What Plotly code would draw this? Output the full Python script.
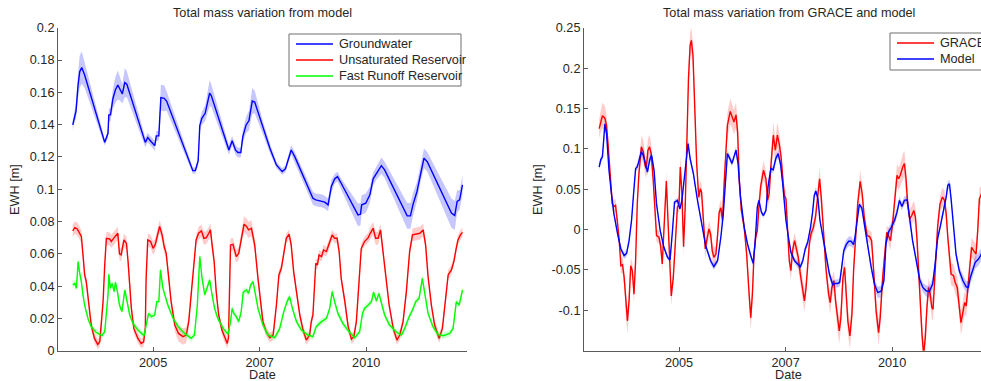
import plotly.graph_objects as go

# ---------------- DATA ----------------
tick_pos = [2005.24, 2007.84, 2010.44]
tick_txt = ["2005", "2007", "2010"]

left_yticks = [0, 0.02, 0.04, 0.06, 0.08, 0.1, 0.12, 0.14, 0.16, 0.18, 0.2]
left_yticktext = ["0", "0.02", "0.04", "0.06", "0.08", "0.1", "0.12", "0.14", "0.16", "0.18", "0.2"]
right_yticks = [-0.1, -0.05, 0, 0.05, 0.1, 0.15, 0.2, 0.25]
right_yticktext = ["-0.1", "-0.05", "0", "0.05", "0.1", "0.15", "0.2", "0.25"]

# Groundwater (model)
gw_t = [2003.28, 2003.33, 2003.36, 2003.41, 2003.45, 2003.50, 2003.57, 2004.06, 2004.10, 2004.14,
        2004.16, 2004.20, 2004.26, 2004.32, 2004.38, 2004.43, 2004.49, 2004.55, 2004.60, 2005.05,
        2005.11, 2005.19, 2005.28, 2005.32, 2005.38, 2005.43, 2005.51, 2005.57, 2006.21, 2006.27,
        2006.34, 2006.38, 2006.43, 2006.51, 2006.56, 2006.62, 2006.66, 2007.09, 2007.17, 2007.25,
        2007.31, 2007.38, 2007.43, 2007.51, 2007.58, 2007.66, 2007.72, 2007.92, 2008.09, 2008.25,
        2008.39, 2008.47, 2008.61, 2008.70, 2009.14, 2009.21, 2009.35, 2009.43, 2009.51, 2009.59,
        2009.67, 2009.74, 2009.83, 2010.24, 2010.30, 2010.33, 2010.43, 2010.53, 2010.61, 2010.69,
        2010.81, 2010.89, 2011.44, 2011.52, 2011.58, 2011.68, 2011.76, 2011.85, 2011.93, 2012.52,
        2012.60, 2012.66, 2012.72, 2012.79]
gw_v = [0.1398, 0.146, 0.1485, 0.1645, 0.1728, 0.1753, 0.1707, 0.129, 0.1316, 0.1346,
        0.146, 0.146, 0.156, 0.1614, 0.1645, 0.162, 0.159, 0.166, 0.165, 0.129,
        0.132, 0.1295, 0.127, 0.133, 0.133, 0.1567, 0.1563, 0.1546, 0.1115, 0.1115,
        0.1175, 0.1394, 0.1439, 0.147, 0.1526, 0.1594, 0.158, 0.1243, 0.130, 0.1243,
        0.1227, 0.1227, 0.1326, 0.1398, 0.1425, 0.1546, 0.154, 0.138, 0.1254, 0.115,
        0.1109, 0.1126, 0.1243, 0.120, 0.0944, 0.0934, 0.0928, 0.092, 0.0903, 0.1017,
        0.1064, 0.1078, 0.1037, 0.0841, 0.0845, 0.0903, 0.0913, 0.0965, 0.1064, 0.1099,
        0.1146, 0.112, 0.0835, 0.0835, 0.0903, 0.0986, 0.1089, 0.1192, 0.117, 0.0852,
        0.0837, 0.0924, 0.0934, 0.1027]
gw_e = [0.003, 0.004, 0.005, 0.008, 0.010, 0.010, 0.008, 0.002, 0.002, 0.003,
        0.004, 0.004, 0.006, 0.008, 0.009, 0.007, 0.006, 0.009, 0.008, 0.003,
        0.003, 0.003, 0.003, 0.003, 0.003, 0.008, 0.008, 0.006, 0.002, 0.002,
        0.003, 0.004, 0.004, 0.005, 0.007, 0.008, 0.007, 0.003, 0.003, 0.003,
        0.003, 0.003, 0.004, 0.005, 0.006, 0.008, 0.007, 0.004, 0.003, 0.002,
        0.002, 0.002, 0.003, 0.003, 0.004, 0.004, 0.004, 0.004, 0.004, 0.004,
        0.003, 0.003, 0.003, 0.007, 0.007, 0.006, 0.006, 0.005, 0.004, 0.004,
        0.005, 0.005, 0.008, 0.008, 0.007, 0.006, 0.005, 0.006, 0.006, 0.009,
        0.009, 0.007, 0.006, 0.006]

# Unsaturated reservoir (model)
us_t = [2003.28, 2003.33, 2003.39, 2003.45, 2003.49, 2003.53, 2003.57, 2003.61, 2003.67, 2003.73,
        2003.81, 2003.89, 2003.94, 2003.98, 2004.02, 2004.06, 2004.10, 2004.18, 2004.22, 2004.29,
        2004.34, 2004.38, 2004.42, 2004.46, 2004.53, 2004.59, 2004.63, 2004.67, 2004.71, 2004.77,
        2004.87, 2004.95, 2005.01, 2005.05, 2005.07, 2005.11, 2005.18, 2005.24, 2005.29, 2005.34,
        2005.40, 2005.46, 2005.51, 2005.56, 2005.62, 2005.68, 2005.77, 2005.86, 2005.97, 2006.05,
        2006.11, 2006.17, 2006.24, 2006.29, 2006.35, 2006.42, 2006.48, 2006.54, 2006.60, 2006.64,
        2006.68, 2006.73, 2006.78, 2006.84, 2006.92, 2006.99, 2007.05, 2007.08, 2007.13, 2007.19,
        2007.27, 2007.33, 2007.39, 2007.46, 2007.52, 2007.57, 2007.64, 2007.72, 2007.80, 2007.88,
        2007.92, 2008.00, 2008.09, 2008.17, 2008.25, 2008.31, 2008.37, 2008.43, 2008.49, 2008.56,
        2008.61, 2008.67, 2008.74, 2008.82, 2008.90, 2008.98, 2009.06, 2009.10, 2009.14, 2009.21,
        2009.25, 2009.29, 2009.35, 2009.40, 2009.47, 2009.53, 2009.61, 2009.67, 2009.73, 2009.78,
        2009.83, 2009.92, 2010.00, 2010.08, 2010.14, 2010.20, 2010.28, 2010.32, 2010.40, 2010.49,
        2010.54, 2010.61, 2010.67, 2010.73, 2010.79, 2010.85, 2010.92, 2011.00, 2011.10, 2011.19,
        2011.26, 2011.34, 2011.42, 2011.50, 2011.57, 2011.65, 2011.75, 2011.83, 2011.89, 2011.95,
        2012.03, 2012.11, 2012.22, 2012.30, 2012.38, 2012.44, 2012.52, 2012.58, 2012.63, 2012.68,
        2012.74, 2012.79]
us_v = [0.0742, 0.0762, 0.0754, 0.0727, 0.0707, 0.0593, 0.0469, 0.0428, 0.0283, 0.0159,
        0.0076, 0.0039, 0.0056, 0.0169, 0.0304, 0.0531, 0.0696, 0.0692, 0.0676, 0.0700,
        0.0713, 0.0727, 0.0600, 0.0593, 0.0686, 0.0665, 0.0552, 0.0386, 0.0262, 0.0138,
        0.0076, 0.0045, 0.0055, 0.0138, 0.0448, 0.0686, 0.0676, 0.0634, 0.0655, 0.0707,
        0.0769, 0.0717, 0.0645, 0.0603, 0.0469, 0.0304, 0.0159, 0.0107, 0.0087, 0.0097,
        0.0180, 0.0345, 0.0552, 0.0686, 0.0727, 0.0742, 0.0696, 0.0700, 0.0727, 0.0748,
        0.0655, 0.0552, 0.0366, 0.0221, 0.0128, 0.0076, 0.0045, 0.0080, 0.0655, 0.0659,
        0.0583, 0.0603, 0.0696, 0.0783, 0.0769, 0.0748, 0.0758, 0.0655, 0.0448, 0.0242,
        0.0180, 0.0118, 0.0081, 0.0097, 0.0283, 0.0469, 0.0510, 0.0603, 0.0696, 0.0721,
        0.0655, 0.0490, 0.0366, 0.0221, 0.0128, 0.0066, 0.0097, 0.0180, 0.0220, 0.0541,
        0.0531, 0.0593, 0.0583, 0.0624, 0.0614, 0.0655, 0.0717, 0.0696, 0.0696, 0.0614,
        0.0448, 0.0304, 0.0149, 0.0072, 0.0087, 0.0180, 0.0469, 0.0634, 0.0676, 0.0700,
        0.0727, 0.0758, 0.0696, 0.0696, 0.0748, 0.0603, 0.0448, 0.0283, 0.0138, 0.0066,
        0.0097, 0.0180, 0.0366, 0.0614, 0.0717, 0.0721, 0.0727, 0.0748, 0.0655, 0.0459,
        0.0283, 0.0159, 0.0076, 0.0138, 0.0324, 0.0469, 0.0500, 0.0552, 0.0624, 0.0686,
        0.0717, 0.0733]
us_e = [0.004, 0.004, 0.004, 0.004, 0.004, 0.003, 0.003, 0.003, 0.003, 0.003,
        0.003, 0.003, 0.003, 0.003, 0.003, 0.003, 0.004, 0.004, 0.004, 0.004,
        0.004, 0.004, 0.004, 0.004, 0.004, 0.004, 0.003, 0.003, 0.003, 0.003,
        0.003, 0.003, 0.003, 0.003, 0.003, 0.004, 0.004, 0.004, 0.004, 0.004,
        0.004, 0.004, 0.004, 0.003, 0.003, 0.003, 0.004, 0.005, 0.005, 0.005,
        0.004, 0.003, 0.003, 0.003, 0.004, 0.004, 0.004, 0.004, 0.004, 0.004,
        0.004, 0.003, 0.003, 0.003, 0.003, 0.003, 0.003, 0.003, 0.004, 0.004,
        0.004, 0.004, 0.004, 0.005, 0.005, 0.005, 0.005, 0.004, 0.003, 0.003,
        0.003, 0.003, 0.003, 0.003, 0.003, 0.003, 0.003, 0.003, 0.003, 0.003,
        0.003, 0.003, 0.003, 0.003, 0.003, 0.003, 0.003, 0.003, 0.003, 0.003,
        0.003, 0.003, 0.003, 0.003, 0.003, 0.003, 0.003, 0.003, 0.003, 0.003,
        0.003, 0.003, 0.003, 0.003, 0.003, 0.003, 0.003, 0.003, 0.003, 0.003,
        0.004, 0.004, 0.004, 0.004, 0.004, 0.003, 0.003, 0.003, 0.003, 0.003,
        0.003, 0.003, 0.003, 0.003, 0.004, 0.004, 0.004, 0.004, 0.003, 0.003,
        0.003, 0.003, 0.003, 0.003, 0.003, 0.003, 0.003, 0.003, 0.003, 0.003,
        0.003, 0.003]

# Fast runoff reservoir (model)
fr_t = [2003.28, 2003.33, 2003.37, 2003.41, 2003.45, 2003.49, 2003.53, 2003.57, 2003.65, 2003.73,
        2003.85, 2003.99, 2004.06, 2004.10, 2004.14, 2004.16, 2004.20, 2004.24, 2004.29, 2004.32,
        2004.37, 2004.42, 2004.48, 2004.55, 2004.61, 2004.67, 2004.75, 2004.87, 2005.02, 2005.07,
        2005.13, 2005.20, 2005.28, 2005.33, 2005.38, 2005.42, 2005.48, 2005.54, 2005.60, 2005.73,
        2005.85, 2006.01, 2006.17, 2006.25, 2006.32, 2006.38, 2006.43, 2006.50, 2006.56, 2006.62,
        2006.68, 2006.74, 2006.82, 2006.95, 2007.07, 2007.13, 2007.17, 2007.21, 2007.27, 2007.33,
        2007.39, 2007.44, 2007.52, 2007.57, 2007.62, 2007.68, 2007.74, 2007.80, 2007.87, 2007.92,
        2008.04, 2008.21, 2008.33, 2008.43, 2008.51, 2008.57, 2008.64, 2008.74, 2008.86, 2009.02,
        2009.14, 2009.22, 2009.35, 2009.47, 2009.55, 2009.61, 2009.67, 2009.75, 2009.87, 2010.02,
        2010.16, 2010.28, 2010.35, 2010.40, 2010.49, 2010.57, 2010.62, 2010.69, 2010.75, 2010.81,
        2010.89, 2011.01, 2011.18, 2011.30, 2011.38, 2011.49, 2011.57, 2011.65, 2011.73, 2011.81,
        2011.87, 2011.95, 2012.07, 2012.19, 2012.32, 2012.48, 2012.56, 2012.64, 2012.71, 2012.76,
        2012.79]
fr_v = [0.0407, 0.0417, 0.0386, 0.0552, 0.0479, 0.0428, 0.0345, 0.0283, 0.0200, 0.0149,
        0.0114, 0.0093, 0.0118, 0.0242, 0.0345, 0.0473, 0.0386, 0.0417, 0.0366, 0.0424,
        0.0366, 0.0283, 0.0242, 0.0376, 0.0304, 0.0221, 0.0169, 0.0128, 0.0093, 0.0149,
        0.0231, 0.0211, 0.0221, 0.0304, 0.0304, 0.0500, 0.0386, 0.0335, 0.0283, 0.0200,
        0.0149, 0.0107, 0.0076, 0.0097, 0.0283, 0.0583, 0.0459, 0.0345, 0.0386, 0.0438,
        0.0345, 0.0262, 0.0200, 0.0138, 0.0101, 0.0180, 0.0262, 0.0231, 0.0211, 0.0180,
        0.0242, 0.0362, 0.0376, 0.0355, 0.0407, 0.0428, 0.0345, 0.0262, 0.0200, 0.0160,
        0.0097, 0.0081, 0.0138, 0.0242, 0.0304, 0.0335, 0.0262, 0.0180, 0.0128, 0.0097,
        0.0087, 0.0149, 0.0180, 0.0200, 0.0262, 0.0366, 0.0304, 0.0231, 0.0169, 0.0118,
        0.0081, 0.0118, 0.0231, 0.0262, 0.0283, 0.0304, 0.0362, 0.0308, 0.0355, 0.0304,
        0.0221, 0.0159, 0.0114, 0.0097, 0.0138, 0.0211, 0.0252, 0.0304, 0.0324, 0.0448,
        0.0345, 0.0231, 0.0149, 0.0101, 0.0093, 0.0107, 0.0138, 0.0304, 0.0283, 0.0345,
        0.0376]
fr_e = [0.002, 0.002, 0.002, 0.003, 0.002, 0.002, 0.002, 0.002, 0.002, 0.002,
        0.002, 0.002, 0.002, 0.002, 0.002, 0.003, 0.002, 0.002, 0.002, 0.002,
        0.002, 0.002, 0.002, 0.002, 0.002, 0.002, 0.002, 0.002, 0.002, 0.002,
        0.002, 0.002, 0.002, 0.002, 0.002, 0.003, 0.002, 0.002, 0.002, 0.002,
        0.002, 0.002, 0.002, 0.002, 0.002, 0.003, 0.002, 0.002, 0.002, 0.002,
        0.002, 0.002, 0.002, 0.002, 0.002, 0.002, 0.002, 0.002, 0.002, 0.002,
        0.002, 0.002, 0.002, 0.002, 0.002, 0.002, 0.002, 0.002, 0.002, 0.002,
        0.002, 0.002, 0.002, 0.002, 0.002, 0.002, 0.002, 0.002, 0.002, 0.002,
        0.002, 0.002, 0.002, 0.002, 0.002, 0.002, 0.002, 0.002, 0.002, 0.002,
        0.002, 0.002, 0.002, 0.002, 0.002, 0.002, 0.002, 0.002, 0.002, 0.002,
        0.002, 0.002, 0.002, 0.002, 0.002, 0.002, 0.002, 0.002, 0.002, 0.003,
        0.002, 0.002, 0.002, 0.002, 0.002, 0.002, 0.002, 0.002, 0.002, 0.002,
        0.002]

# GRACE total mass variation
gr_t = [2003.29, 2003.33, 2003.37, 2003.43, 2003.47, 2003.51, 2003.56, 2003.61, 2003.65, 2003.69,
        2003.74, 2003.78, 2003.82, 2003.86, 2003.90, 2003.94, 2003.98, 2004.02, 2004.06, 2004.10,
        2004.14, 2004.18, 2004.22, 2004.26, 2004.32, 2004.37, 2004.41, 2004.44, 2004.48, 2004.52,
        2004.56, 2004.61, 2004.65, 2004.69, 2004.75, 2004.79, 2004.83, 2004.87, 2004.91, 2004.93,
        2004.97, 2005.01, 2005.05, 2005.10, 2005.16, 2005.20, 2005.24, 2005.27, 2005.31, 2005.35,
        2005.39, 2005.43, 2005.47, 2005.51, 2005.54, 2005.58, 2005.62, 2005.67, 2005.72, 2005.76,
        2005.79, 2005.83, 2005.88, 2005.93, 2005.97, 2006.01, 2006.05, 2006.09, 2006.14, 2006.18,
        2006.22, 2006.26, 2006.30, 2006.34, 2006.38, 2006.42, 2006.49, 2006.53, 2006.58, 2006.63,
        2006.67, 2006.71, 2006.76, 2006.83, 2006.89, 2006.95, 2006.99, 2007.03, 2007.07, 2007.11,
        2007.15, 2007.19, 2007.23, 2007.30, 2007.36, 2007.40, 2007.44, 2007.48, 2007.54, 2007.59,
        2007.64, 2007.69, 2007.73, 2007.77, 2007.81, 2007.85, 2007.89, 2007.93, 2007.97, 2008.01,
        2008.06, 2008.10, 2008.15, 2008.20, 2008.26, 2008.30, 2008.34, 2008.38, 2008.42, 2008.46,
        2008.52, 2008.57, 2008.63, 2008.67, 2008.71, 2008.75, 2008.79, 2008.83, 2008.89, 2008.93,
        2008.97, 2009.02, 2009.06, 2009.11, 2009.15, 2009.19, 2009.24, 2009.28, 2009.32, 2009.36,
        2009.41, 2009.46, 2009.50, 2009.56, 2009.60, 2009.66, 2009.71, 2009.76, 2009.83, 2009.89,
        2009.94, 2009.99, 2010.05, 2010.11, 2010.15, 2010.21, 2010.27, 2010.31, 2010.35, 2010.40,
        2010.46, 2010.51, 2010.56, 2010.60, 2010.64, 2010.70, 2010.74, 2010.78, 2010.82, 2010.87,
        2010.92, 2010.97, 2011.01, 2011.05, 2011.09, 2011.13, 2011.17, 2011.21, 2011.25, 2011.29,
        2011.33, 2011.37, 2011.41, 2011.44, 2011.47, 2011.51, 2011.55, 2011.61, 2011.67, 2011.72,
        2011.76, 2011.80, 2011.84, 2011.88, 2011.94, 2011.98, 2012.03, 2012.08, 2012.12, 2012.16,
        2012.21, 2012.25, 2012.29, 2012.34, 2012.38, 2012.43, 2012.49, 2012.53, 2012.57, 2012.61,
        2012.68]
gr_v = [0.125, 0.135, 0.141, 0.138, 0.129, 0.104, 0.060, 0.032, 0.0286, 0.030,
        0.007, -0.0137, -0.0448, -0.0435, -0.0593, -0.0925, -0.113, -0.0883, -0.0448, -0.051,
        -0.080, -0.0386, 0.0319, 0.0692, 0.1024, 0.0962, 0.0796, 0.0755, 0.0983, 0.1024,
        0.0941, 0.0609, 0.0195, -0.0075, -0.0095, -0.0199, -0.0427, -0.0012, 0.0444, 0.0601,
        0.0112, -0.0427, -0.0821, -0.0593, -0.0054, 0.0278, 0.0319, 0.0775, 0.0444, -0.0211,
        0.0278, 0.1148, 0.1868, 0.2281, 0.2343, 0.2157, 0.1496, 0.0817, 0.0402, 0.0506,
        0.0464, 0.0112, -0.024, -0.0095, 0.0008, -0.0054, -0.0261, -0.0344, -0.0303, -0.0075,
        0.0216, 0.0269, 0.0112, 0.0568, 0.1024, 0.129, 0.1463, 0.1413, 0.1331, 0.1421,
        0.1207, 0.0609, 0.0236, 0.0029, -0.0303, -0.080, -0.109, -0.080, -0.0303, -0.0095,
        -0.0012, 0.0278, 0.0527, 0.0734, 0.063, 0.0361, 0.0444, 0.0775, 0.1169, 0.0983,
        0.1169, 0.1045, 0.090, 0.0651, 0.0423, 0.0381, 0.0029, -0.0386, -0.051, -0.0261,
        -0.0137, -0.022, -0.0344, -0.0551, -0.0759, -0.0883, -0.0717, -0.0386, -0.0178, -0.0054,
        0.0029, 0.0153, 0.0444, 0.063, 0.0402, 0.0112, -0.0261, -0.051, -0.080, -0.0904,
        -0.0717, -0.0634, -0.0883, -0.1132, -0.1256, -0.109, -0.0593, -0.0468, -0.080, -0.1132,
        -0.1318, -0.1049, -0.051, -0.0054, 0.0319, 0.0597, 0.0444, 0.0153, -0.0075, -0.0087,
        -0.0137, -0.051, -0.1007, -0.1277, -0.109, -0.0593, -0.022, -0.0033, -0.0075, -0.0137,
        0.0112, 0.0444, 0.0672, 0.063, 0.0672, 0.0775, 0.0817, 0.063, 0.0319, 0.0133,
        0.0174, 0.0236, 0.0153, -0.0137, -0.0551, -0.0966, -0.1298, -0.1546, -0.1339, -0.0966,
        -0.0717, -0.080, -0.0966, -0.0987, -0.0717, -0.0303, 0.0029, 0.0319, 0.0402, 0.0361,
        0.0195, -0.0095, -0.0386, -0.0551, -0.0572, -0.0655, -0.0717, -0.0925, -0.1153, -0.1049,
        -0.0904, -0.0945, -0.0717, -0.0386, -0.022, -0.0261, -0.0303, -0.0012, 0.0381, 0.0423,
        0.055]
gr_e = [0.012, 0.014, 0.016, 0.015, 0.013, 0.010, 0.008, 0.008, 0.008, 0.008,
        0.008, 0.008, 0.010, 0.010, 0.010, 0.014, 0.016, 0.014, 0.010, 0.010,
        0.012, 0.010, 0.008, 0.010, 0.014, 0.014, 0.012, 0.012, 0.014, 0.015,
        0.013, 0.010, 0.008, 0.008, 0.008, 0.008, 0.010, 0.008, 0.010, 0.012,
        0.010, 0.010, 0.012, 0.010, 0.008, 0.008, 0.010, 0.014, 0.010, 0.012,
        0.010, 0.014, 0.016, 0.016, 0.016, 0.016, 0.014, 0.010, 0.008, 0.010,
        0.010, 0.008, 0.012, 0.010, 0.010, 0.008, 0.010, 0.012, 0.010, 0.008,
        0.008, 0.010, 0.010, 0.010, 0.014, 0.016, 0.016, 0.015, 0.015, 0.016,
        0.014, 0.010, 0.008, 0.008, 0.010, 0.012, 0.016, 0.012, 0.010, 0.008,
        0.008, 0.008, 0.010, 0.012, 0.010, 0.010, 0.010, 0.012, 0.016, 0.014,
        0.016, 0.014, 0.012, 0.010, 0.010, 0.010, 0.008, 0.010, 0.012, 0.010,
        0.010, 0.010, 0.010, 0.012, 0.012, 0.014, 0.012, 0.010, 0.008, 0.008,
        0.008, 0.008, 0.012, 0.014, 0.012, 0.010, 0.010, 0.012, 0.012, 0.014,
        0.012, 0.012, 0.014, 0.014, 0.016, 0.014, 0.012, 0.012, 0.014, 0.016,
        0.016, 0.014, 0.012, 0.010, 0.010, 0.014, 0.012, 0.010, 0.008, 0.008,
        0.010, 0.012, 0.014, 0.016, 0.014, 0.012, 0.010, 0.008, 0.010, 0.012,
        0.012, 0.012, 0.014, 0.014, 0.014, 0.016, 0.016, 0.014, 0.012, 0.012,
        0.012, 0.012, 0.012, 0.012, 0.012, 0.014, 0.016, 0.016, 0.016, 0.014,
        0.012, 0.012, 0.014, 0.014, 0.012, 0.012, 0.010, 0.010, 0.012, 0.012,
        0.010, 0.010, 0.012, 0.014, 0.014, 0.014, 0.014, 0.014, 0.016, 0.014,
        0.014, 0.014, 0.012, 0.012, 0.012, 0.012, 0.012, 0.012, 0.012, 0.012,
        0.012]

# Model total mass variation
md_t = [2003.29, 2003.33, 2003.37, 2003.41, 2003.43, 2003.47, 2003.53, 2003.59, 2003.65, 2003.74,
        2003.82, 2003.90, 2003.96, 2004.02, 2004.08, 2004.13, 2004.18, 2004.22, 2004.26, 2004.32,
        2004.37, 2004.43, 2004.47, 2004.52, 2004.57, 2004.63, 2004.69, 2004.78, 2004.87, 2004.96,
        2005.02, 2005.08, 2005.13, 2005.20, 2005.26, 2005.31, 2005.36, 2005.42, 2005.46, 2005.51,
        2005.59, 2005.69, 2005.79, 2005.89, 2006.01, 2006.09, 2006.18, 2006.26, 2006.32, 2006.38,
        2006.42, 2006.48, 2006.53, 2006.58, 2006.63, 2006.68, 2006.74, 2006.83, 2006.91, 2006.99,
        2007.05, 2007.10, 2007.15, 2007.19, 2007.25, 2007.30, 2007.36, 2007.41, 2007.48, 2007.54,
        2007.60, 2007.66, 2007.72, 2007.77, 2007.81, 2007.85, 2007.91, 2007.97, 2008.06, 2008.14,
        2008.20, 2008.26, 2008.32, 2008.38, 2008.45, 2008.50, 2008.54, 2008.58, 2008.63, 2008.68,
        2008.75, 2008.83, 2008.91, 2008.99, 2009.05, 2009.11, 2009.16, 2009.21, 2009.26, 2009.32,
        2009.38, 2009.44, 2009.50, 2009.54, 2009.59, 2009.64, 2009.70, 2009.76, 2009.85, 2009.93,
        2010.01, 2010.09, 2010.17, 2010.24, 2010.29, 2010.35, 2010.42, 2010.50, 2010.56, 2010.62,
        2010.68, 2010.74, 2010.81, 2010.86, 2010.94, 2011.03, 2011.11, 2011.19, 2011.27, 2011.35,
        2011.43, 2011.49, 2011.55, 2011.62, 2011.70, 2011.76, 2011.80, 2011.84, 2011.88, 2011.95,
        2012.00, 2012.08, 2012.17, 2012.25, 2012.30, 2012.35, 2012.41, 2012.47, 2012.55, 2012.61,
        2012.68]
md_v = [0.0775, 0.0867, 0.090, 0.119, 0.131, 0.119, 0.0734, 0.0444, 0.0195, -0.0054,
        -0.024, -0.0323, -0.0294, -0.0137, 0.0112, 0.0444, 0.0755, 0.0775, 0.0867, 0.0962,
        0.092, 0.0775, 0.0713, 0.0858, 0.092, 0.0734, 0.0319, -0.0012, -0.022, -0.0344,
        -0.0377, -0.0012, 0.034, 0.0361, 0.0257, 0.0361, 0.0609, 0.0941, 0.1066, 0.0879,
        0.0692, 0.0361, 0.007, -0.0199, -0.0386, -0.046, -0.0386, -0.0095, 0.0195, 0.0609,
        0.0941, 0.0879, 0.0817, 0.090, 0.0983, 0.0817, 0.0402, 0.0029, -0.0178, -0.0323,
        -0.0419, -0.0137, 0.0278, 0.0361, 0.0216, 0.0174, 0.0236, 0.0527, 0.0755, 0.0742,
        0.0879, 0.0941, 0.080, 0.0568, 0.0319, 0.0112, -0.0095, -0.0282, -0.0386, -0.0435,
        -0.046, -0.0386, -0.024, -0.0158, 0.0029, 0.0216, 0.0423, 0.0477, 0.0381, 0.0112,
        -0.0095, -0.0344, -0.0551, -0.0684, -0.0667, -0.0667, -0.0655, -0.0468, -0.0261, -0.0187,
        -0.0145, -0.0145, -0.0187, -0.0075, 0.0153, 0.0311, 0.0269, 0.007, -0.022, -0.0468,
        -0.0676, -0.0779, -0.0767, -0.0634, -0.0178, -0.0033, 0.0029, 0.0112, 0.0216, 0.0361,
        0.0286, 0.0361, 0.0369, 0.0153, -0.0137, -0.0386, -0.0614, -0.0717, -0.0759, -0.0767,
        -0.0676, -0.0427, -0.0116, 0.005, 0.0236, 0.0402, 0.0547, 0.0568, 0.0381, 0.0029,
        -0.0303, -0.051, -0.0634, -0.0709, -0.0717, -0.0593, -0.0489, -0.0406, -0.0365, -0.0303,
        -0.025]
md_e = [0.004, 0.004, 0.004, 0.005, 0.005, 0.004, 0.003, 0.003, 0.003, 0.003,
        0.003, 0.004, 0.004, 0.003, 0.003, 0.003, 0.004, 0.004, 0.005, 0.006,
        0.005, 0.004, 0.004, 0.005, 0.005, 0.004, 0.003, 0.003, 0.003, 0.003,
        0.003, 0.003, 0.003, 0.003, 0.003, 0.003, 0.004, 0.005, 0.006, 0.005,
        0.004, 0.003, 0.003, 0.003, 0.004, 0.004, 0.004, 0.003, 0.003, 0.004,
        0.004, 0.004, 0.004, 0.004, 0.005, 0.004, 0.003, 0.003, 0.004, 0.004,
        0.004, 0.003, 0.003, 0.003, 0.003, 0.003, 0.003, 0.004, 0.004, 0.004,
        0.005, 0.005, 0.004, 0.004, 0.003, 0.003, 0.003, 0.004, 0.004, 0.004,
        0.004, 0.004, 0.004, 0.004, 0.003, 0.003, 0.004, 0.005, 0.004, 0.003,
        0.003, 0.004, 0.005, 0.005, 0.005, 0.005, 0.005, 0.005, 0.006, 0.006,
        0.006, 0.006, 0.005, 0.005, 0.004, 0.004, 0.004, 0.004, 0.004, 0.005,
        0.006, 0.007, 0.007, 0.006, 0.005, 0.005, 0.006, 0.006, 0.006, 0.005,
        0.005, 0.005, 0.005, 0.004, 0.004, 0.005, 0.006, 0.006, 0.007, 0.007,
        0.007, 0.006, 0.005, 0.004, 0.004, 0.005, 0.005, 0.005, 0.004, 0.004,
        0.005, 0.006, 0.007, 0.007, 0.008, 0.008, 0.008, 0.008, 0.008, 0.008,
        0.008]

for name, a, b, c in [("gw", gw_t, gw_v, gw_e), ("us", us_t, us_v, us_e), ("fr", fr_t, fr_v, fr_e),
                      ("gr", gr_t, gr_v, gr_e), ("md", md_t, md_v, md_e)]:
    assert len(a) == len(b) == len(c), (name, len(a), len(b), len(c))

# ---------------- FIGURE ----------------
W, H = 981, 381
FONT = "Liberation Sans, Arial, Helvetica, sans-serif"
FS = 12.7
TXT = "#262626"
AX = "#5a5a5a"

BLUE, RED, GREEN = "#0000ff", "#ff0000", "#00ff00"
BLUE_F, RED_F, GREEN_F = "rgba(0,0,255,0.22)", "rgba(255,0,0,0.20)", "rgba(0,255,0,0.18)"


def px(x):
    return x / W


def py(y):
    return 1 - y / H


fig = go.Figure()


def add_series(t, v, e, line_col, fill_col, xa, ya, name):
    up = [a + b for a, b in zip(v, e)]
    lo = [a - b for a, b in zip(v, e)]
    fig.add_trace(go.Scatter(x=list(t) + list(t)[::-1], y=up + lo[::-1], fill="toself",
                             fillcolor=fill_col, line=dict(width=0), mode="lines",
                             hoverinfo="skip", showlegend=False, xaxis=xa, yaxis=ya))
    fig.add_trace(go.Scatter(x=t, y=v, mode="lines", line=dict(color=line_col, width=1.4),
                             name=name, showlegend=False, xaxis=xa, yaxis=ya))


add_series(gw_t, gw_v, gw_e, BLUE, BLUE_F, "x", "y", "Groundwater")
add_series(us_t, us_v, us_e, RED, RED_F, "x", "y", "Unsaturated Reservoir")
add_series(fr_t, fr_v, fr_e, GREEN, GREEN_F, "x", "y", "Fast Runoff Reservoir")
add_series(gr_t, gr_v, gr_e, RED, RED_F, "x2", "y2", "GRACE")
add_series(md_t, md_v, md_e, BLUE, BLUE_F, "x2", "y2", "Model")

axis_common = dict(showline=True, linecolor=AX, linewidth=1, ticks="inside", ticklen=4,
                   tickcolor=AX, showgrid=False, zeroline=False, mirror=False, automargin=False,
                   tickfont=dict(family=FONT, size=FS, color=TXT))

ydom = [py(350.7), py(27.7)]
fig.update_layout(
    width=W, height=H, margin=dict(l=0, r=0, t=0, b=0, pad=0, autoexpand=False),
    paper_bgcolor="white", plot_bgcolor="white", showlegend=False,
    font=dict(family=FONT, size=FS, color=TXT),
    xaxis=dict(domain=[px(58), px(467)], range=[2002.92, 2012.90], anchor="y",
               tickvals=tick_pos, ticktext=tick_txt, **axis_common),
    yaxis=dict(domain=ydom, range=[0, 0.2], anchor="x",
               tickvals=left_yticks, ticktext=left_yticktext, **axis_common),
    xaxis2=dict(domain=[px(584), 1.0], range=[2002.92, 2012.61], anchor="y2",
                tickvals=tick_pos, ticktext=tick_txt, **axis_common),
    yaxis2=dict(domain=ydom, range=[-0.15, 0.25], anchor="x2",
                tickvals=right_yticks, ticktext=right_yticktext, **axis_common),
)

ann = []


def text(x, y, s, size=FS, anchor="center", angle=0, pad=1):
    ann.append(dict(x=px(x), y=py(y), xref="paper", yref="paper", text=s, showarrow=False,
                    xanchor=anchor, yanchor="middle", textangle=angle, borderpad=pad,
                    font=dict(family=FONT, size=size, color=TXT)))


text(262.5, 13, "Total mass variation from model")
text(788.5, 13, "Total mass variation from GRACE and model")
text(262.5, 374.5, "Date", pad=0)
text(788.5, 374.5, "Date", pad=0)
text(15, 190, "EWH [m]", angle=-90)
text(538, 190, "EWH [m]", angle=-90)

shapes = []


def legend(x0, y0, x1, y1, entries):
    shapes.append(dict(type="rect", xref="paper", yref="paper", x0=px(x0), x1=px(x1),
                       y0=py(y0), y1=py(y1), line=dict(color="#6e6e6e", width=1),
                       fillcolor="white", layer="above"))
    for (yy, col, label) in entries:
        shapes.append(dict(type="line", xref="paper", yref="paper", x0=px(x0 + 7), x1=px(x0 + 44),
                           y0=py(yy), y1=py(yy), line=dict(color=col, width=1.4), layer="above"))
        text(x0 + 48, yy, label, anchor="left")


legend(289, 34, 461, 86, [(44, BLUE, "Groundwater"), (60, RED, "Unsaturated Reservoir"),
                          (76, GREEN, "Fast Runoff Reservoir")])
legend(890, 33, 1010, 70, [(43, RED, "GRACE"), (59, BLUE, "Model")])

fig.update_layout(annotations=ann, shapes=shapes)
fig.write_html("out.html", config={"displayModeBar": False},
               post_script="document.body.style.margin='0';document.body.style.overflow='hidden';")
